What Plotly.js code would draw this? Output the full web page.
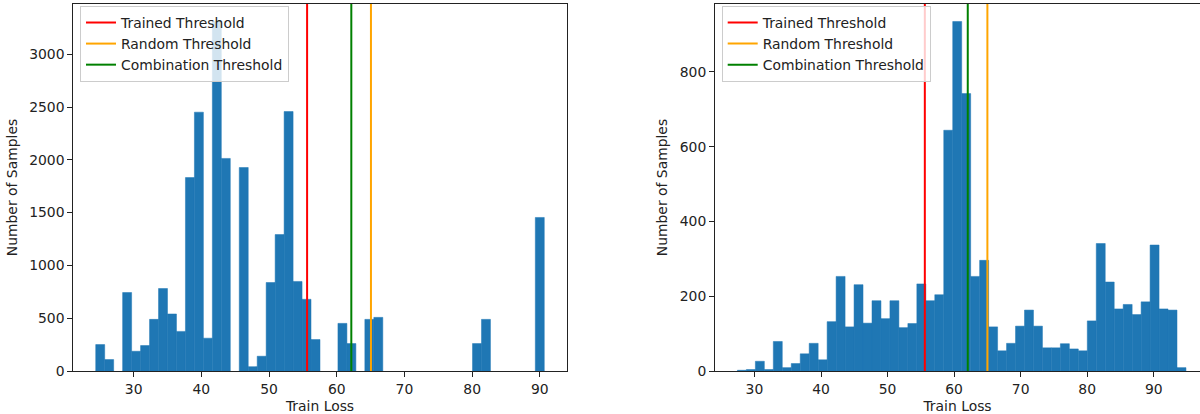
<!DOCTYPE html>
<html>
<head>
<meta charset="utf-8">
<script src="https://cdn.plot.ly/plotly-3.0.1.min.js"></script>
<style>html,body{margin:0;padding:0;background:#fff;}#chart{width:1200px;height:414px;}</style>
</head>
<body>
<div id="chart"></div>
<script>
// ---- data ----
const leftBinStart = 24.4;
const leftBinWidth = 1.325;
const leftCounts = [250,108,0,743,187,241,489,781,540,375,
                    1832,2451,311,3310,2013,0,1927,41,140,838,
                    1292,2457,848,679,298,0,0,451,260,0,
                    489,508,0,0,0,0,0,0,0,0,
                    0,0,260,489,0,0,0,0,0,1454];
const rightBinStart = 27.44;
const rightBinWidth = 1.348;
const rightCounts = [2,4,26,4,79,9,20,46,74,30,
                     132,253,118,231,128,188,140,188,116,127,
                     233,188,204,644,935,742,253,296,118,54,
                     74,120,163,120,62,62,73,59,54,134,
                     341,238,166,178,151,185,337,166,163,9];
const thresholdNames = ["Trained Threshold","Random Threshold","Combination Threshold"];
const leftThresholds = [55.62, 65.05, 62.15];
const rightThresholds = [55.6, 65.0, 62.05];
const xTicks = [30,40,50,60,70,80,90];
const leftYTicks = [0,500,1000,1500,2000,2500,3000];
const rightYTicks = [0,200,400,600,800];
const xLabel = "Train Loss";
const yLabel = "Number of Samples";

// ---- styles ----
const barColor = "#1f77b4";
const lineColors = ["#ff0000","#ffa500","#008000"];
const FONT = "DejaVu Sans, sans-serif";
const FS = 13.9;
const W = 1200;
const axL0 = 73.3, axL1 = 566.7, axR0 = 715;

function centers(start, width, n){ const a=[]; for(let i=0;i<n;i++) a.push(start+width*(i+0.5)); return a; }
function xr(start,width,n){ const lo=start, hi=start+width*n, m=(hi-lo)*0.05; return [lo-m, hi+m]; }
function seam(counts){ return counts.map(c => c > 0 ? 0.5 : 0); }

const lx = xr(leftBinStart,leftBinWidth,leftCounts.length);
const rxFull = xr(rightBinStart,rightBinWidth,rightCounts.length);
const rx = [rxFull[0], rxFull[0] + (rxFull[1]-rxFull[0])*(W-axR0)/(axL1-axL0)];
const lyMax = Math.max(...leftCounts)*1.05;
const ryMax = Math.max(...rightCounts)*1.05;

const traces = [];
traces.push({type:"bar", x:centers(leftBinStart,leftBinWidth,leftCounts.length), y:leftCounts,
  width:leftBinWidth, marker:{color:barColor, line:{width:seam(leftCounts), color:barColor}}, showlegend:false, xaxis:"x", yaxis:"y", hoverinfo:"skip"});
traces.push({type:"bar", x:centers(rightBinStart,rightBinWidth,rightCounts.length), y:rightCounts,
  width:rightBinWidth, marker:{color:barColor, line:{width:seam(rightCounts), color:barColor}}, showlegend:false, xaxis:"x2", yaxis:"y2", hoverinfo:"skip"});
thresholdNames.forEach((n,i)=>{
  traces.push({type:"scatter", mode:"lines", name:n, x:[leftThresholds[i],leftThresholds[i]], y:[0,lyMax],
    line:{color:lineColors[i], width:2}, xaxis:"x", yaxis:"y", legend:"legend", hoverinfo:"skip"});
});
thresholdNames.forEach((n,i)=>{
  traces.push({type:"scatter", mode:"lines", name:n, x:[rightThresholds[i],rightThresholds[i]], y:[0,ryMax],
    line:{color:lineColors[i], width:2}, xaxis:"x2", yaxis:"y2", legend:"legend2", hoverinfo:"skip"});
});

const tickFont = {family:FONT, size:FS, color:"#222"};
function xax(domain, range, mirror){
  return {domain:domain, range:range, tickvals:xTicks, ticks:"outside", ticklen:5, tickwidth:1, tickcolor:"#222",
    showline:true, linecolor:"#222", linewidth:1, mirror:mirror, showgrid:false, zeroline:false,
    tickfont:tickFont, automargin:false, title:{text:xLabel, font:tickFont, standoff:6}};
}
function yax(anchor, range, ticks, mirror){
  return {anchor:anchor, domain:[0,1], range:range, tickvals:ticks, ticks:"outside", ticklen:5, tickwidth:1, tickcolor:"#222",
    showline:true, linecolor:"#222", linewidth:1, mirror:mirror, showgrid:false, zeroline:false,
    tickfont:tickFont, automargin:false, title:{text:yLabel, font:tickFont, standoff:8}};
}
const legendStyle = (x)=>({x:x, y:0.9946, xanchor:"left", yanchor:"top", xref:"paper", yref:"paper",
  bgcolor:"rgba(255,255,255,0.8)", bordercolor:"#cccccc", borderwidth:1, font:{family:FONT, size:FS, color:"#222"},
  traceorder:"normal", tracegroupgap:0});

const layout = {
  width:1200, height:414, margin:{l:0,r:0,t:4,b:43}, paper_bgcolor:"#fff", plot_bgcolor:"#fff",
  showlegend:true, hovermode:false,
  xaxis: Object.assign(xax([axL0/W, axL1/W], lx, true), {anchor:"y"}),
  yaxis: yax("x", [0,lyMax], leftYTicks, true),
  xaxis2: Object.assign(xax([axR0/W, 1], rx, true), {anchor:"y2"}),
  yaxis2: yax("x2", [0,ryMax], rightYTicks, false),
  legend: legendStyle(80/W),
  legend2: legendStyle(721.7/W),
  barmode:"overlay"
};
Plotly.newPlot("chart", traces, layout, {staticPlot:true, displayModeBar:false});
</script>
</body>
</html>
